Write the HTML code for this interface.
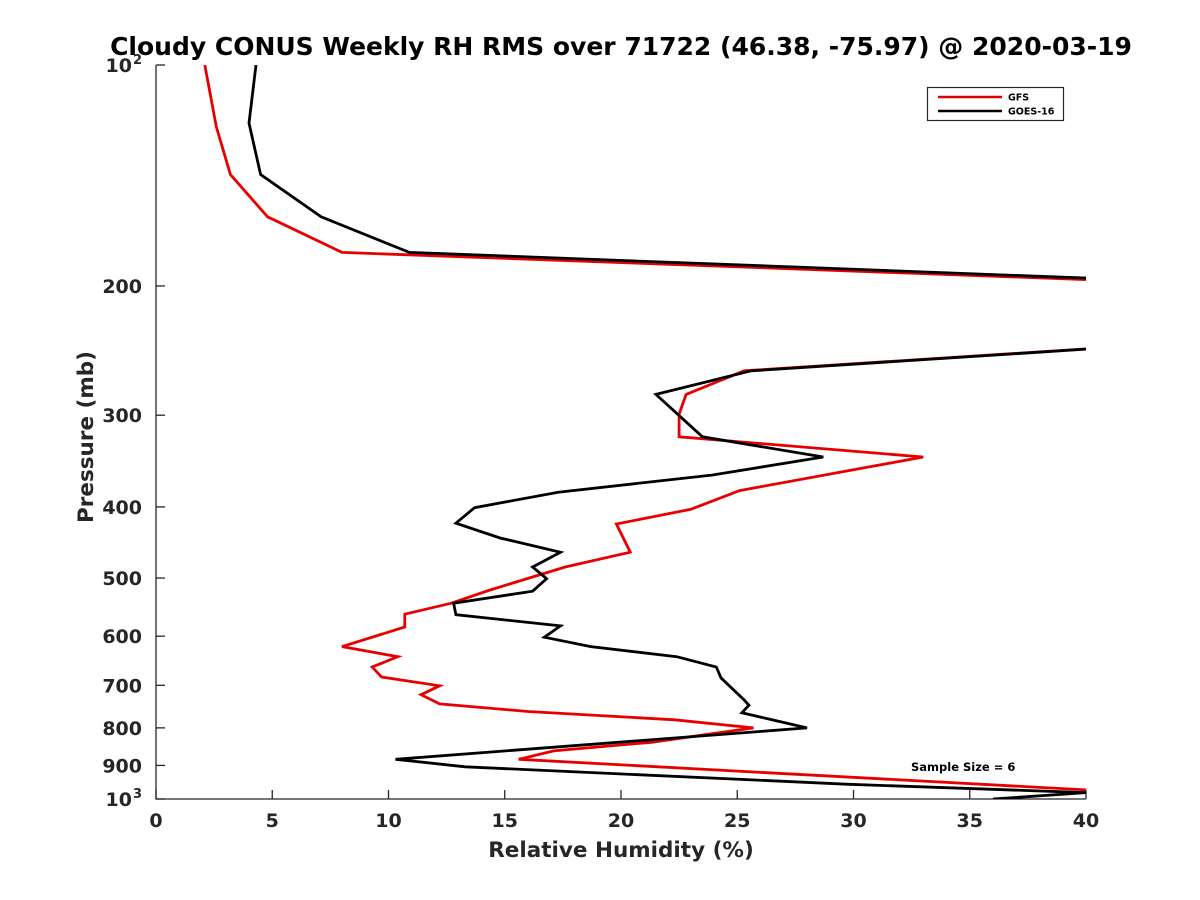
<!DOCTYPE html>
<html><head><meta charset="utf-8"><style>
html,body{margin:0;padding:0;background:#fff}
svg{display:block;font-family:"DejaVu Sans","Liberation Sans",sans-serif}
</style></head><body>
<svg id="chart" width="1200" height="900" viewBox="0 0 1200 900">
<defs><clipPath id="plotclip"><rect x="156" y="65" width="930" height="734"/></clipPath></defs>
<text x="621" y="55" text-anchor="middle" font-size="25" font-weight="bold" fill="#000">Cloudy CONUS Weekly RH RMS over 71722 (46.38, -75.97) @ 2020-03-19</text>
<g id="axes"></g>
<g id="series" clip-path="url(#plotclip)"></g>
<text x="621" y="857" text-anchor="middle" font-size="21.5" font-weight="bold" fill="#262626">Relative Humidity (%)</text>
<text transform="translate(93,437) rotate(-90)" text-anchor="middle" font-size="21.5" font-weight="bold" fill="#262626">Pressure (mb)</text>
<g>
<rect x="927.5" y="87.5" width="136" height="33" fill="#fff" stroke="#262626" stroke-width="1.2"/>
<line x1="938" y1="97" x2="1002" y2="97" stroke="#e00000" stroke-width="2.5"/>
<text x="1008" y="100.5" font-size="9.5" font-weight="bold" fill="#000">GFS</text>
<line x1="938" y1="111" x2="1002" y2="111" stroke="#000" stroke-width="2.5"/>
<text x="1008" y="114.5" font-size="9.5" font-weight="bold" fill="#000">GOES-16</text>
</g>
<text x="911" y="771" font-size="11.5" font-weight="bold" fill="#000">Sample Size = 6</text>
</svg>
<script>
const xTicks=[0,5,10,15,20,25,30,35,40];
const yTicks=[100,200,300,400,500,600,700,800,900,1000];
const yTickLabels=["","200","300","400","500","600","700","800","900",""];
const gfsRH=[2.1,2.6,3.2,4.8,8.0,85,58,25.3,22.8,22.5,22.5,33.0,25.1,23.0,19.8,20.4,17.6,14.3,12.7,10.7,10.7,8.0,10.4,9.3,9.7,12.2,11.4,12.2,16.0,22.3,25.7,21.3,17.1,15.6,40,45];
const gfsP=[100,121.5,141,161,180,221,224,261,281,299,321,342,380,403,422,461,483,520,541,560,583,620,640,661,682,701,721,742,760,780,800,837,860,883,972,985];
const goesRH=[4.3,4.0,4.5,7.1,10.9,85,58,25.6,21.5,23.5,28.7,23.9,17.3,13.7,12.9,14.8,17.4,16.2,16.8,16.2,12.8,12.9,17.4,16.7,18.7,22.4,24.1,24.3,25.3,25.5,25.2,28.0,10.3,13.3,29.8,40,36];
const goesP=[100,120,141,161,180,221,224,261,281,321,342,362,382,401,421,441,461,483,501,521,541,561,581,602,620,640,661,684,733,745,763,800,883,904,955,980,1000];
const X0=156,X1=1086,Y0=65,Y1=799;
function xs(v){return X0+(v-0)/(40-0)*(X1-X0);}
function ys(p){return Y0+(Math.log10(p)-2)*(Y1-Y0);}
const NS="http://www.w3.org/2000/svg";
const axes=document.getElementById('axes');
const series=document.getElementById('series');
function mk(tag,attrs,parent){const e=document.createElementNS(NS,tag);for(const k in attrs)e.setAttribute(k,attrs[k]);parent.appendChild(e);return e;}
let ln=mk('line',{x1:X0,y1:Y0,x2:X0,y2:Y1+0.5,stroke:'#262626','stroke-width':1.3},axes);


ln=mk('line',{x1:X0-0.5,y1:Y1,x2:X1,y2:Y1,stroke:'#262626','stroke-width':1.3},axes);


xTicks.forEach(v=>{
  const t=mk('line',{x1:xs(v),y1:Y1,x2:xs(v),y2:Y1-9,stroke:'#262626','stroke-width':1.3},axes);
  
  
  const l=mk('text',{x:xs(v),y:Y1+28,'text-anchor':'middle','font-size':19,'font-weight':'bold',fill:'#262626'},axes);
  l.textContent=String(v);
  
  
});
yTicks.forEach((p,i)=>{
  const t=mk('line',{x1:X0,y1:ys(p),x2:X0+9,y2:ys(p),stroke:'#262626','stroke-width':1.3},axes);
  
  
  if(yTickLabels[i]){
    const l=mk('text',{x:X0-14,y:ys(p)+7,'text-anchor':'end','font-size':19,'font-weight':'bold',fill:'#262626'},axes);
    l.textContent=yTickLabels[i];
    
    
  }
});
[[100,"2"],[1000,"3"]].forEach(([p,e])=>{
  const l=mk('text',{x:X0-24,y:ys(p)+7,'text-anchor':'end','font-size':19,'font-weight':'bold',fill:'#262626'},axes);
  l.textContent='10';
  
  
  const s=mk('text',{x:X0-14,y:ys(p)-1,'text-anchor':'end','font-size':13,'font-weight':'bold',fill:'#262626'},axes);
  s.textContent=e;
  
  
});
function drawLine(rh,p,color,name){
  const pts=rh.map((v,i)=>xs(v).toFixed(1)+','+ys(p[i]).toFixed(1)).join(' ');
  const pl=mk('polyline',{points:pts,fill:'none',stroke:color,'stroke-width':2.8,'stroke-linejoin':'miter'},series);
  
  
}
drawLine(gfsRH,gfsP,'#e80000','gfs-line');
drawLine(goesRH,goesP,'#000000','goes16-line');
</script>
</body></html>
